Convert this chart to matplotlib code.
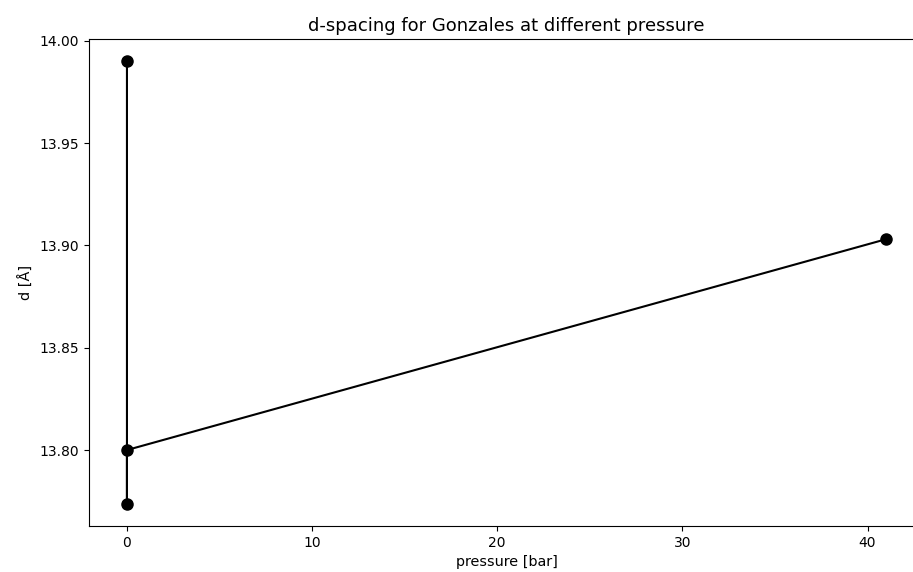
import matplotlib
matplotlib.use('Agg')
import matplotlib.pyplot as plt

# d-spacing measurements (pressure in bar, d in Angstrom)
pressure = [0, 0, 0, 41]
d_spacing = [13.99, 13.7737, 13.80, 13.903]

fig = plt.figure(figsize=(9.13, 5.72), dpi=100)
ax = fig.add_axes([89 / 913, 46 / 572, (924 - 89) / 913, 487 / 572])
ax.plot(pressure, d_spacing, 'ko-', linewidth=1.5, markersize=8)
ax.set_title('d-spacing for Gonzales at different pressure', fontsize=13)
ax.set_xlabel('pressure [bar]', fontsize=10.4)
ax.set_ylabel('d [Å]', fontsize=10.4)
ax.set_xticks([0, 10, 20, 30, 40])
ax.set_yticks([13.80, 13.85, 13.90, 13.95, 14.00])
fig.savefig('out.png', dpi=100)
